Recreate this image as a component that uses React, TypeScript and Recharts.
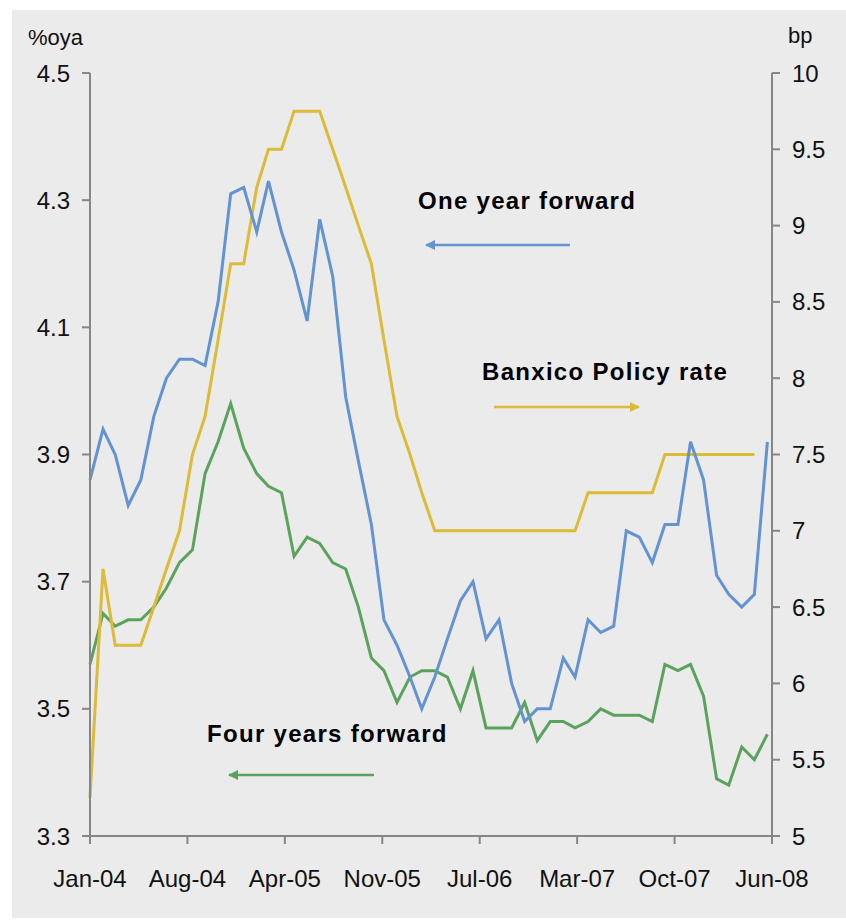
import React from 'react';
import { LineChart, Line, XAxis, YAxis } from 'recharts';

// monthly observations, Jan-04 .. Jun-08
const firstYear = 2004;
const oneYearForward = [
  3.86, 3.94, 3.9, 3.82, 3.86, 3.96, 4.02, 4.05, 4.05, 4.04,
  4.14, 4.31, 4.32, 4.25, 4.33, 4.25, 4.19, 4.11, 4.27, 4.18,
  3.99, 3.89, 3.79, 3.64, 3.6, 3.55, 3.5, 3.55, 3.61, 3.67,
  3.7, 3.61, 3.64, 3.54, 3.48, 3.5, 3.5, 3.58, 3.55, 3.64,
  3.62, 3.63, 3.78, 3.77, 3.73, 3.79, 3.79, 3.92, 3.86, 3.71,
  3.68, 3.66, 3.68, 3.92,
];
const fourYearsForward = [
  3.57, 3.65, 3.63, 3.64, 3.64, 3.66, 3.69, 3.73, 3.75, 3.87,
  3.92, 3.98, 3.91, 3.87, 3.85, 3.84, 3.74, 3.77, 3.76, 3.73,
  3.72, 3.66, 3.58, 3.56, 3.51, 3.55, 3.56, 3.56, 3.55, 3.5,
  3.56, 3.47, 3.47, 3.47, 3.51, 3.45, 3.48, 3.48, 3.47, 3.48,
  3.5, 3.49, 3.49, 3.49, 3.48, 3.57, 3.56, 3.57, 3.52, 3.39,
  3.38, 3.44, 3.42, 3.46,
];
const policyRate: (number | null)[] = [
  5.25, 6.75, 6.25, 6.25, 6.25, 6.5, 6.75, 7.0, 7.5, 7.75,
  8.25, 8.75, 8.75, 9.25, 9.5, 9.5, 9.75, 9.75, 9.75, 9.5,
  9.25, 9.0, 8.75, 8.25, 7.75, 7.5, 7.25, 7.0, 7.0, 7.0,
  7.0, 7.0, 7.0, 7.0, 7.0, 7.0, 7.0, 7.0, 7.0, 7.25,
  7.25, 7.25, 7.25, 7.25, 7.25, 7.5, 7.5, 7.5, 7.5, 7.5,
  7.5, 7.5, 7.5, null,
];

const tickLabels = ['Jan-04', 'Aug-04', 'Apr-05', 'Nov-05', 'Jul-06', 'Mar-07', 'Oct-07', 'Jun-08'];
const tickStepDays = 232;
const leftTicks = [3.3, 3.5, 3.7, 3.9, 4.1, 4.3, 4.5];
const rightTicks = [5, 5.5, 6, 6.5, 7, 7.5, 8, 8.5, 9, 9.5, 10];

const DAY = 86400000;
const start = Date.UTC(firstYear, 0, 1);

const data = oneYearForward.map((v, i) => ({
  day: (Date.UTC(firstYear, i, 1) - start) / DAY,
  oneYear: v,
  fourYear: fourYearsForward[i],
  policy: policyRate[i],
}));

const xTicks = tickLabels.map((_, i) => i * tickStepDays);

const BLUE = '#6393d1';
const YELLOW = '#dcbb36';
const GREEN = '#5ba35c';
const AXIS = '#868686';
const FONT = '"Liberation Sans", Arial, sans-serif';

const tickStyle = { fill: '#111', fontSize: 24, fontFamily: FONT };
const noteStyle: React.CSSProperties = { fontFamily: FONT, fontSize: 24, fontWeight: 'bold', letterSpacing: 1.3 };

const App: React.FC = () => {
  return (
    <div style={{ position: 'absolute', left: 0, top: 0, width: 846, height: 920, background: '#fff' }}>
      <div style={{ position: 'absolute', left: 12, top: 10, width: 834, height: 908, background: '#ebebeb' }} />
      <div style={{ position: 'absolute', left: 0, top: 0 }}>
        <LineChart
          width={846}
          height={920}
          data={data}
          margin={{ top: 73, right: 14, bottom: 34, left: 30 }}
        >
          <XAxis
            dataKey="day"
            type="number"
            domain={[0, xTicks[xTicks.length - 1]]}
            ticks={xTicks}
            tickFormatter={(v: number) => tickLabels[Math.round(v / tickStepDays)]}
            height={50}
            stroke={AXIS}
            strokeWidth={2}
            tickSize={8}
            tickMargin={26}
            tick={tickStyle}
            interval={0}
          />
          <YAxis
            yAxisId="left"
            domain={[3.3, 4.5]}
            ticks={leftTicks}
            width={60}
            stroke={AXIS}
            strokeWidth={2}
            tickSize={8}
            tickMargin={12}
            tick={tickStyle}
            interval={0}
          />
          <YAxis
            yAxisId="right"
            orientation="right"
            domain={[5, 10]}
            ticks={rightTicks}
            width={60}
            stroke={AXIS}
            strokeWidth={2}
            tickSize={8}
            tickMargin={12}
            tick={tickStyle}
            interval={0}
          />
          <Line yAxisId="left" dataKey="fourYear" stroke={GREEN} strokeWidth={3} dot={false} isAnimationActive={false} />
          <Line yAxisId="right" dataKey="policy" stroke={YELLOW} strokeWidth={3} dot={false} isAnimationActive={false} />
          <Line yAxisId="left" dataKey="oneYear" stroke={BLUE} strokeWidth={3} dot={false} isAnimationActive={false} />
        </LineChart>
      </div>
      {/* axis titles and series notes */}
      <svg width={846} height={920} style={{ position: 'absolute', left: 0, top: 0, pointerEvents: 'none' }}>
        <defs>
          <marker id="headBlue" markerWidth="10" markerHeight="10" refX="9" refY="5" orient="auto" markerUnits="userSpaceOnUse">
            <path d="M0,0 L10,5 L0,10 Z" fill={BLUE} />
          </marker>
          <marker id="headYellow" markerWidth="10" markerHeight="10" refX="9" refY="5" orient="auto" markerUnits="userSpaceOnUse">
            <path d="M0,0 L10,5 L0,10 Z" fill={YELLOW} />
          </marker>
          <marker id="headGreen" markerWidth="10" markerHeight="10" refX="9" refY="5" orient="auto" markerUnits="userSpaceOnUse">
            <path d="M0,0 L10,5 L0,10 Z" fill={GREEN} />
          </marker>
        </defs>
        <text x={28} y={45} fontFamily={FONT} fontSize={22} fill="#111">%oya</text>
        <text x={788} y={43} fontFamily={FONT} fontSize={22} fill="#111">bp</text>

        <text x={418} y={209} style={noteStyle}>One year forward</text>
        <line x1={570} y1={245} x2={426} y2={245} stroke={BLUE} strokeWidth={2.5} markerEnd="url(#headBlue)" />

        <text x={482} y={380} style={noteStyle}>Banxico Policy rate</text>
        <line x1={494} y1={407} x2={639} y2={407} stroke={YELLOW} strokeWidth={2.5} markerEnd="url(#headYellow)" />

        <text x={207} y={742} style={noteStyle}>Four years forward</text>
        <line x1={374} y1={775} x2={229} y2={775} stroke={GREEN} strokeWidth={2.5} markerEnd="url(#headGreen)" />
      </svg>
    </div>
  );
};

export default App;
